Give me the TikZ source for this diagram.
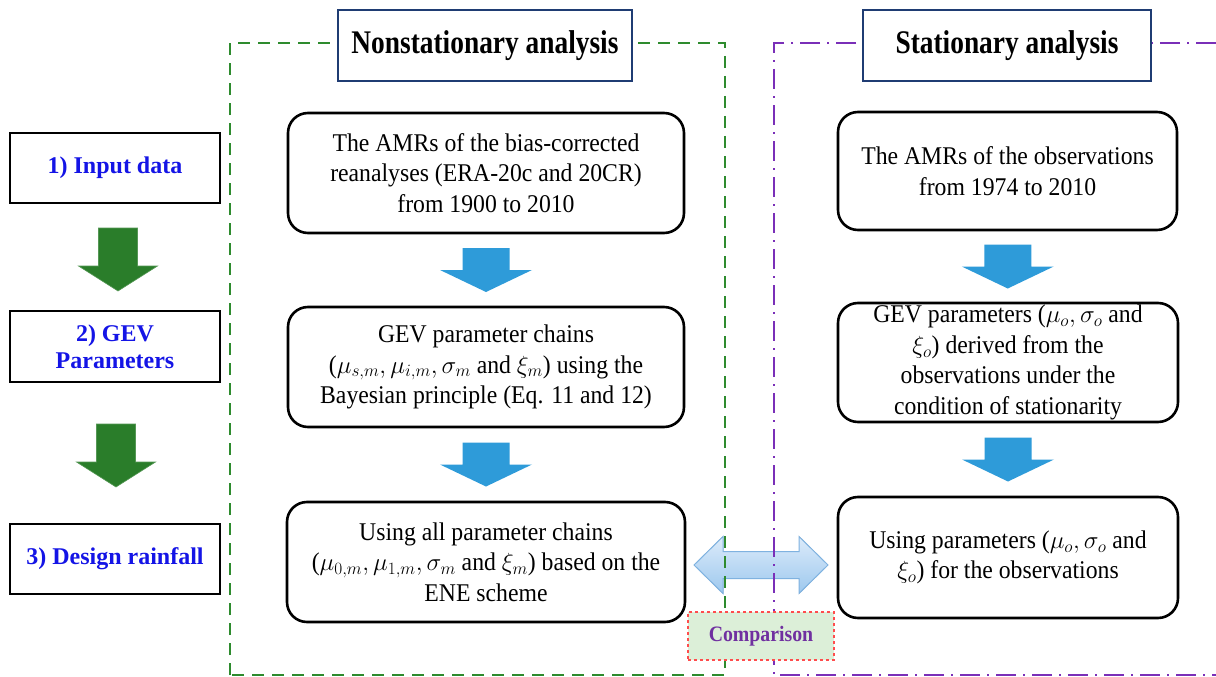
\documentclass[tikz,border=0pt]{standalone}
\usepackage{fontspec}
\setmainfont{Liberation Serif}
\newfontfamily\bodyfnt{Liberation Serif}[FakeStretch=0.93]
\newfontfamily\titlefnt{Liberation Serif}[FakeStretch=0.83]
\newfontfamily\cmpfnt{Liberation Serif}[FakeStretch=0.9]
\usetikzlibrary{calc}
\definecolor{framegreen}{HTML}{2E8B2E}
\definecolor{arrgreen}{HTML}{2A7D2A}
\definecolor{framepurple}{HTML}{7A2FB8}
\definecolor{navy}{HTML}{1F3C73}
\definecolor{arrblue}{HTML}{2E9BD9}
\definecolor{txtblue}{HTML}{1414E6}
\definecolor{dblTop}{HTML}{DCEBFA}
\definecolor{dblBot}{HTML}{9DC8EE}
\definecolor{dblEdge}{HTML}{7FB2E0}
\definecolor{cmpfill}{HTML}{DCEFD8}
\definecolor{cmpedge}{HTML}{FF4D4D}
\definecolor{cmptext}{HTML}{7030A0}
\tikzset{
  mainbox/.style={draw=black, line width=2.6pt, rounded corners=20pt, fill=white,
    align=center, inner sep=0pt, font=\bodyfnt\fontsize{25.5}{30.5}\selectfont},
  stagebox/.style={draw=black, line width=2.6pt, fill=white, align=center, inner sep=0pt,
    minimum width=210pt, minimum height=70pt, text=txtblue,
    font=\fontsize{24}{27}\selectfont\bfseries},
  titlebox/.style={draw=navy, line width=2.4pt, fill=white, inner sep=0pt,
    minimum height=71pt, font=\titlefnt\fontsize{33}{36}\selectfont\bfseries},
  greenframe/.style={draw=framegreen, line width=2.4pt, dash pattern=on 12pt off 8pt},
  purpleframe/.style={draw=framepurple, line width=2.4pt, dash pattern=on 20pt off 7pt on 2pt off 7pt},
  bluedown/.pic={\fill[arrblue] (-23.5,-22) -- (23.5,-22) -- (23.5,0) -- (46,0) -- (0,22) -- (-46,0) -- (-23.5,0) -- cycle;},
  greendown/.pic={\filldraw[fill=arrgreen, draw=arrgreen!80!white, line width=0.6pt] (-19.5,-29) -- (19.5,-29) -- (19.5,9) -- (39.5,9) -- (0,34) -- (-39.5,9) -- (-19.5,9) -- cycle;},
  dblarrow/.pic={\filldraw[draw=dblEdge, line width=1pt, top color=dblTop, bottom color=dblBot]
     (-67,0) -- (-38,-28.5) -- (-38,-13.5) -- (38,-13.5) -- (38,-28.5) -- (67,0) -- (38,28.5) -- (38,13.5) -- (-38,13.5) -- (-38,28.5) -- cycle;}
}
\begin{document}
\begin{tikzpicture}[x=1pt,y=-1pt]
\useasboundingbox[fill=white] (0,0) rectangle (1216,677);

% double arrow (behind frames)
\coordinate (dblc) at (761,565);
\pic at (dblc) {dblarrow};

% frames
\draw[greenframe] (230,675) -- (230,43) -- (725,43) -- (725,675) -- cycle;
\draw[purpleframe] (1216,43) -- (774,43) -- (774,675) -- (1216,675);

% titles
\node[titlebox, minimum width=294pt] (t1) at (485,45.5) {Nonstationary analysis};
\node[titlebox, minimum width=288pt] (t2) at (1007,45.5) {Stationary analysis};

% stage boxes
\node[stagebox] (s1) at (115,168) {1) Input data};
\node[stagebox, minimum height=71pt] (s2) at (115,346.5) {2) GEV\\Parameters};
\node[stagebox] (s3) at (115,559) {3) Design rainfall};

% nonstationary column
\node[mainbox, minimum width=396pt, minimum height=120pt] (l1) at (486,173)
  {The AMRs of the bias-corrected\\reanalyses (ERA-20c and 20CR)\\from 1900 to 2010};
\node[mainbox, minimum width=396pt, minimum height=120pt] (l2) at (486,367)
  {GEV parameter chains\\($\mu_{s,m},\mu_{i,m},\sigma_m$ and $\xi_m$) using the\\Bayesian principle (Eq. 11 and 12)};
\node[mainbox, minimum width=398pt, minimum height=120pt] (l3) at (486,562)
  {Using all parameter chains\\($\mu_{0,m},\mu_{1,m},\sigma_m$ and $\xi_m$) based on the\\ENE scheme};

% stationary column
\node[mainbox, minimum width=339pt, minimum height=118pt] (r1) at (1007.5,171)
  {The AMRs of the observations\\from 1974 to 2010};
\node[mainbox, minimum width=340pt, minimum height=119pt] (r2) at (1008,362.5)
  {GEV parameters ($\mu_o,\sigma_o$ and\\$\xi_o$) derived from the\\observations under the\\condition of stationarity};
\node[mainbox, minimum width=340pt, minimum height=121pt] (r3) at (1008,557.5)
  {Using parameters ($\mu_o,\sigma_o$ and\\$\xi_o$) for the observations};

% comparison
\node[draw=cmpedge, dashed, line width=1.2pt, fill=cmpfill, minimum width=146pt, minimum height=48pt,
  inner sep=0pt, text=cmptext, font=\cmpfnt\fontsize{22}{24}\selectfont\bfseries] (cmp) at (761,636) {Comparison};

% block arrows
\pic at ($(l1.south)!0.5!(l2.north)$) {bluedown};
\pic at ($(l2.south)!0.5!(l3.north)$) {bluedown};
\pic at ($(r1.south)!0.5!(r2.north)$) {bluedown};
\pic at ($(r2.south)!0.5!(r3.north)$) {bluedown};
\pic at ($(s1.south)!0.5!(s2.north)+(3,0)$) {greendown};
\pic at ($(s2.south)!0.5!(s3.north)+(1,0)$) {greendown};
\end{tikzpicture}
\end{document}
